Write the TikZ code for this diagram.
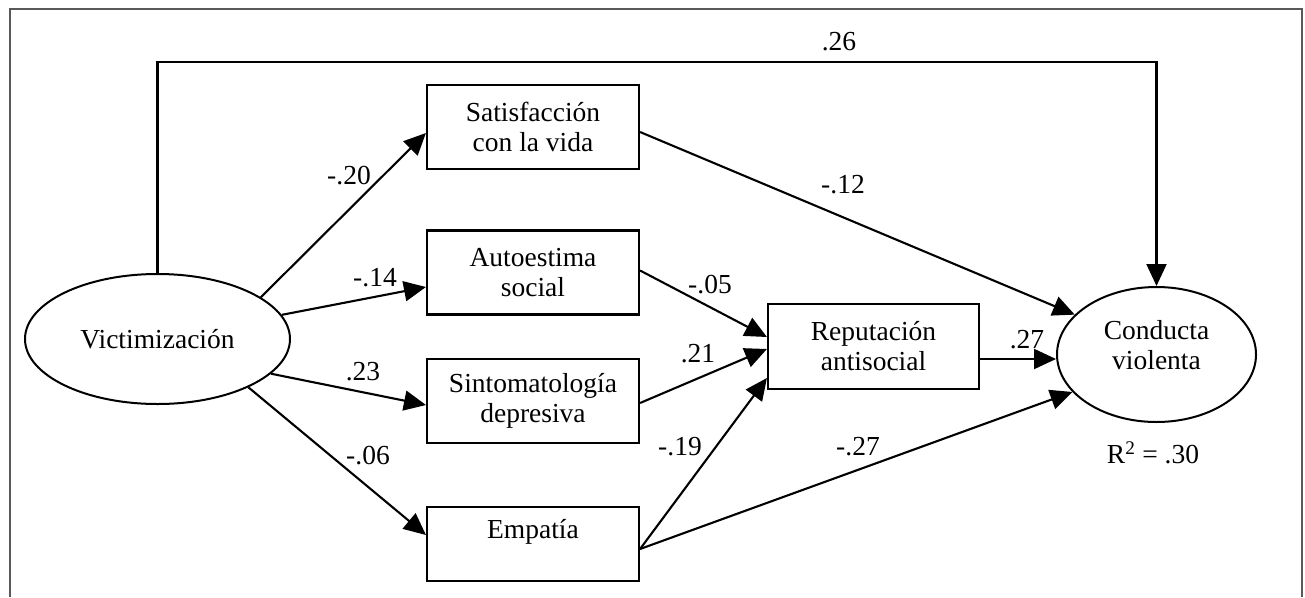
\documentclass[tikz,border=0pt]{standalone}
\usepackage{fontspec}
\setmainfont{Liberation Serif}
\usetikzlibrary{arrows.meta,shapes.geometric}
\newcommand\dfont{\fontsize{27.5}{30}\selectfont}
\begin{document}
\begin{tikzpicture}[x=1pt,y=-1pt,
  box/.style={draw, line width=2.1pt, minimum width=212pt, minimum height=84pt, align=center, inner sep=0pt, font=\dfont},
  lat/.style={draw, ellipse, line width=2pt, inner sep=0pt, font=\dfont},
  arr/.style={line width=2.1pt, -{Triangle[length=22pt,width=20pt]}},
  coef/.style={font=\dfont, inner sep=0pt},
  frame/.style={draw=black!65, line width=1.6pt}]
\useasboundingbox (0,0) rectangle (1305,597);
\draw[frame] (10,597) -- (10,9) -- (1302,9) -- (1302,597);

\node[lat, minimum width=265pt, minimum height=130pt] (vic) at (157.5,339) {Victimización};
\node[box] (sat) at (533,127) {Satisfacción\\con la vida};
\node[box] (aut) at (533,272.5) {Autoestima\\social};
\node[box] (sin) at (533,401) {Sintomatología\\depresiva};
\node[box, minimum height=74pt] (emp) at (533,544) {Empatía\\\mbox{}};
\node[box, minimum width=211pt, minimum height=85pt] (rep) at (873.5,346.5) {Reputación\\antisocial};
\node[lat, minimum width=199pt, minimum height=135pt] (con) at (1156.5,354.5) {};
\node[font=\dfont, align=center, inner sep=0pt] (contxt) at (1156.5,345) {Conducta\\violenta};
\node[coef] (r2) at (1153,453) {R\textsuperscript{2} = .30};

\coordinate (tp) at (157.5,62);
\draw[arr] (vic.north) |- (tp) -| (con.north);
\node[coef] (c26) at (839,42) {.26};

\draw[arr] (vic.22) -- ([yshift=-6pt]sat.west);
\draw[arr] (vic.11) -- ([yshift=-14.5pt]aut.west);
\draw[arr] (vic.-17) -- ([yshift=-4pt]sin.west);
\draw[arr] (vic.-28) -- ([yshift=9pt]emp.west);
\node[coef] (c20) at (349,176) {-.20};
\node[coef] (c14) at (375,278) {-.14};
\node[coef] (c23) at (363,372) {.23};
\node[coef] (c06) at (368,456) {-.06};

\draw[arr] ([yshift=-5pt]sat.east) -- (con.154);
\node[coef] (c12) at (843,185) {-.12};

\draw[arr] ([yshift=2pt]aut.east) -- ([yshift=9.5pt]rep.west);
\draw[arr] ([yshift=-2pt]sin.east) -- ([yshift=-2.5pt]rep.west);
\draw[arr] ([yshift=-5pt]emp.east) -- ([yshift=-31.5pt]rep.west);
\draw[arr] ([yshift=-5pt]emp.east) -- (con.204);
\draw[arr] ([yshift=-12.5pt]rep.east) -- ([yshift=-4.5pt]con.west);
\node[coef] (c05) at (710,285) {-.05};
\node[coef] (c21) at (698,354) {.21};
\node[coef] (c19) at (680,447) {-.19};
\node[coef] (c27b) at (858,447) {-.27};
\node[coef] (c27a) at (1027,340) {.27};
\end{tikzpicture}
\end{document}
